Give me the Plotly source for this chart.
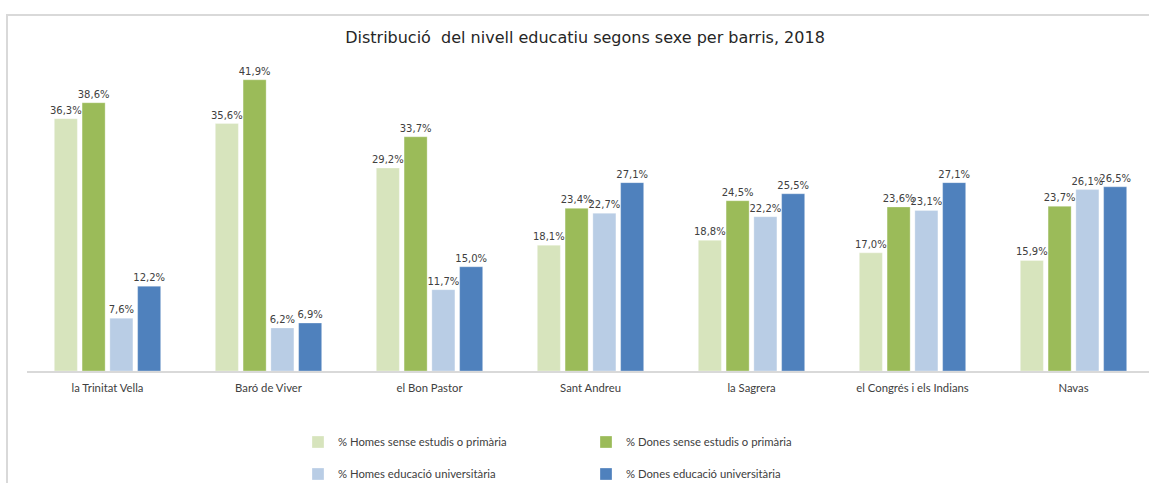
import plotly.graph_objects as go

barris = ["la Trinitat Vella", "Baró de Viver", "el Bon Pastor", "Sant Andreu",
          "la Sagrera", "el Congrés i els Indians", "Navas"]
homes_sense = [36.3, 35.6, 29.2, 18.1, 18.8, 17.0, 15.9]
dones_sense = [38.6, 41.9, 33.7, 23.4, 24.5, 23.6, 23.7]
homes_univ = [7.6, 6.2, 11.7, 22.7, 22.2, 23.1, 26.1]
dones_univ = [12.2, 6.9, 15.0, 27.1, 25.5, 27.1, 26.5]

series = [
    ("% Homes sense estudis o primària", homes_sense, "#d7e4bd", "legend"),
    ("% Dones sense estudis o primària", dones_sense, "#9bbb59", "legend"),
    ("% Homes educació universitària", homes_univ, "#b9cde5", "legend2"),
    ("% Dones educació universitària", dones_univ, "#4f81bd", "legend2"),
]

FONT = "Lato"
W, H = 1149, 483
L, R, T, B = 27, 0, 60, 112
PW = W - L - R
PH = H - T - B

fig = go.Figure()
for name, vals, col, lg in series:
    fig.add_trace(go.Bar(
        x=barris, y=vals, name=name, legend=lg,
        marker=dict(color=col, line=dict(color="rgba(255,255,255,0.6)", width=0.5)),
        texttemplate="%{y:.1f}%", textposition="outside",
        textfont=dict(family="DejaVu Sans", size=10, color="#404040"),
        constraintext="none", cliponaxis=False,
    ))

def px_x(px):
    return (px - L) / PW

def px_y(py):
    return (H - B - py) / PH

leg_common = dict(orientation="h", font=dict(family=FONT, size=11.3, color="#404040"),
                  entrywidth=243, bgcolor="rgba(0,0,0,0)", yanchor="middle",
                  xanchor="left", itemwidth=30, tracegroupgap=0)

fig.update_layout(
    width=W, height=H,
    margin=dict(l=L, r=R, t=T, b=B, autoexpand=False),
    paper_bgcolor="white", plot_bgcolor="white",
    separators=",.",
    barmode="group", bargap=0.31, bargroupgap=0.17,
    title=dict(text="Distribució  del nivell educatiu segons sexe per barris, 2018",
               x=585 / W, xanchor="center", y=1 - 37 / H, yanchor="middle",
               font=dict(family="DejaVu Sans", size=16, color="#262626")),
    xaxis=dict(range=[-0.5, -0.5 + PW / 161.0], showline=True, linecolor="#d9d9d9",
               linewidth=1.5, ticks="", showgrid=False, zeroline=False,
               ticklabelstandoff=6,
               tickfont=dict(family=FONT, size=11.3, color="#404040"), fixedrange=True),
    yaxis=dict(range=[0, PH / 6.95], visible=False, showgrid=False, fixedrange=True),
    legend=dict(x=px_x(298), y=px_y(442), **leg_common),
    legend2=dict(x=px_x(298), y=px_y(474), **leg_common),
    shapes=[dict(type="rect", xref="paper", yref="paper",
                 x0=px_x(7), x1=px_x(1170), y0=px_y(520), y1=px_y(15),
                 line=dict(color="#d9d9d9", width=2), layer="below")],
)

fig.write_html("out.html", config={"displayModeBar": False},
               post_script="document.body.style.margin='0px';document.body.style.overflow='hidden';")
